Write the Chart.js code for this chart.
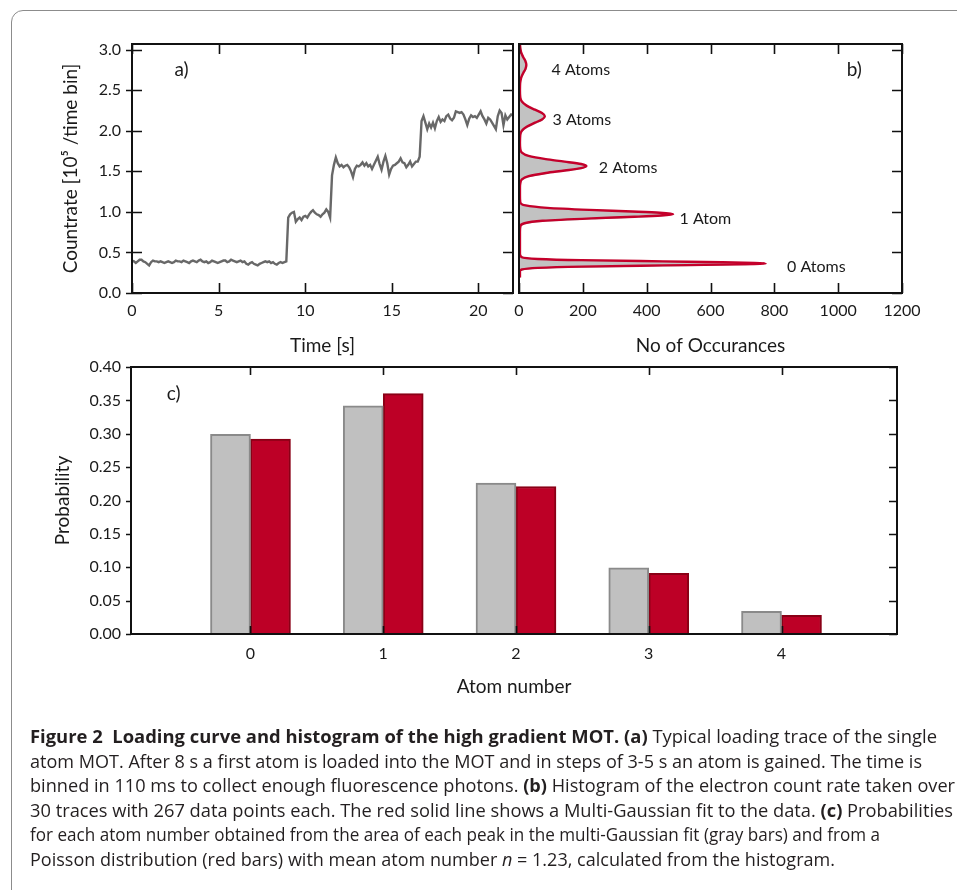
<!DOCTYPE html>
<html><head><meta charset="utf-8">
<script src="https://cdn.jsdelivr.net/npm/chart.js@4.4.1/dist/chart.umd.min.js"></script>
<style>
html,body{margin:0;padding:0;background:#fff;}
body{width:957px;height:890px;position:relative;overflow:hidden;}
canvas{position:absolute;left:0;top:0;pointer-events:none;}
#frame{position:absolute;left:11px;top:10px;width:1000px;height:1000px;border:1px solid #8c8c8c;border-radius:12px;}
#caption{position:absolute;left:30px;top:724px;font-family:"Open Sans",sans-serif;font-size:18px;line-height:24.6px;color:#231f20;}
#caption div{white-space:nowrap;transform-origin:0 50%;width:max-content;height:24.6px;}
#caption b{font-weight:700;}
</style></head><body>
<div id="frame"></div>
<canvas id="ca" width="957" height="890"></canvas>
<canvas id="cb" width="957" height="890"></canvas>
<canvas id="cc" width="957" height="890"></canvas>
<div id="caption">
<div data-w="907"><b>Figure 2&nbsp; Loading curve and histogram of the high gradient MOT. (a)</b> Typical loading trace of the single</div>
<div data-w="892">atom MOT. After 8 s a first atom is loaded into the MOT and in steps of 3-5 s an atom is gained. The time is</div>
<div data-w="925">binned in 110 ms to collect enough fluorescence photons. <b>(b)</b> Histogram of the electron count rate taken over</div>
<div data-w="923">30 traces with 267 data points each. The red solid line shows a Multi-Gaussian fit to the data. <b>(c)</b> Probabilities</div>
<div data-w="850">for each atom number obtained from the area of each peak in the multi-Gaussian fit (gray bars) and from a</div>
<div data-w="805">Poisson distribution (red bars) with mean atom number <i>n</i> = 1.23, calculated from the histogram.</div>
</div>
<script>
// ---------- DATA ----------
const binWidth = 0.11; // s per time bin
const traceRate = [
0.40,0.39,0.37,0.39,0.41,0.41,0.39,0.38,0.36,0.34,
0.38,0.40,0.39,0.39,0.38,0.39,0.38,0.37,0.38,0.39,
0.38,0.37,0.38,0.40,0.39,0.39,0.38,0.40,0.39,0.38,
0.37,0.39,0.40,0.39,0.38,0.40,0.41,0.39,0.38,0.39,
0.37,0.38,0.40,0.39,0.38,0.37,0.38,0.39,0.40,0.40,
0.38,0.39,0.41,0.40,0.39,0.38,0.39,0.40,0.38,0.39,
0.36,0.35,0.37,0.38,0.36,0.35,0.34,0.36,0.37,0.38,
0.39,0.38,0.39,0.37,0.38,0.36,0.35,0.37,0.38,0.37,
0.38,0.39,
0.93,0.97,0.99,1.00,0.88,0.91,0.93,0.90,0.94,0.95,0.93,0.97,1.00,1.02,0.99,0.97,0.96,0.94,0.97,0.99,1.03,1.00,0.93,
1.45,1.58,1.67,1.60,1.56,1.58,1.55,1.57,1.58,1.55,1.50,1.43,1.53,1.57,1.56,1.58,1.61,1.57,1.60,1.56,1.58,1.53,1.58,1.63,1.68,1.59,1.52,1.62,1.69,1.60,1.46,1.53,1.57,1.58,1.60,1.62,1.66,1.61,1.60,1.55,1.58,1.62,1.56,1.59,1.62,1.62,1.68,
2.12,2.18,2.10,2.02,2.09,2.04,2.10,2.03,2.12,2.17,2.11,2.14,2.12,2.18,2.20,2.15,2.13,2.16,2.24,2.23,2.22,2.23,2.20,2.14,2.07,2.15,2.19,2.17,2.18,2.16,2.20,2.24,2.18,2.14,2.09,2.16,2.14,2.10,2.06,2.02,2.18,2.25,2.22,2.07,2.19,2.14,2.17,2.20,2.19
];
const timeTicks = [0,5,10,15,20];
const rateTicks = [0,0.5,1.0,1.5,2.0,2.5,3.0];
const countTicks = [0,200,400,600,800,1000,1200];

const fitRate  = [0.19,0.25,0.27,0.29,0.31,0.325,0.34,0.35,0.358,0.365,0.372,0.38,0.39,0.405,0.42,0.44,0.48,0.6,0.75,0.82,0.86,0.89,0.92,0.94,0.955,0.972,0.99,1.005,1.025,1.05,1.08,1.12,1.2,1.3,1.35,1.40,1.44,1.48,1.51,1.54,1.565,1.59,1.62,1.65,1.69,1.73,1.78,1.85,1.95,2.00,2.05,2.10,2.14,2.18,2.22,2.26,2.31,2.36,2.41,2.5,2.58,2.65,2.71,2.76,2.81,2.86,2.91,2.97,3.04,3.1];
const fitCount = [3,3,3,9,59,195,451,637,738,773,738,637,451,195,59,9,3,3,3,4,17,74,226,362,445,483,441,355,220,89,21,4,3,3,4,9,30,84,143,195,211,195,143,84,30,9,4,3,4,9,24,50,72,81,72,50,24,9,4,3,3.5,6.4,13,20,23,20,13,6.4,3.5,3];
const histCount = [3,3,4,14,80,240,500,680,750,740,690,560,380,150,45,8,3,3,3,5,22,90,250,380,450,470,420,330,200,80,18,4,3,3,4,10,35,92,150,200,205,185,130,78,28,8,4,3,4,10,27,55,75,80,70,47,22,8,4,3,3.5,7,14,21,22,19,12,6,3.5,3];

const atomNumbers = [0,1,2,3,4];
const gaussProb  = [0.299,0.342,0.226,0.099,0.034];
const poissonProb = [0.292,0.360,0.221,0.091,0.028];
const probTicks = [0,0.05,0.10,0.15,0.20,0.25,0.30,0.35,0.40];

const peakLabels = ['0 Atoms','1 Atom','2 Atoms','3 Atoms','4 Atoms'];

// ---------- PLUGINS ----------
const frameTicks = {
  id:'frameTicks',
  afterDatasetsDraw(chart, args, o){
    if(!o || !o.on) return;
    const {ctx, chartArea:a} = chart;
    const xs = chart.scales.x, ys = chart.scales.y;
    ctx.save();
    ctx.strokeStyle = '#111'; ctx.lineWidth = o.tw || 1.6;
    ctx.beginPath();
    const L = o.len;
    (o.xTicks||[]).forEach(v=>{
      const p = Math.round(xs.getPixelForValue(v))+0.5;
      if(o.top){ctx.moveTo(p,a.top);ctx.lineTo(p,a.top+L);}
      if(o.bottom){ctx.moveTo(p,a.bottom);ctx.lineTo(p,a.bottom-L);}
    });
    (o.yTicks||[]).forEach(v=>{
      const p = Math.round(ys.getPixelForValue(v))+0.5;
      if(o.leftIn){ctx.moveTo(a.left,p);ctx.lineTo(a.left+o.leftIn,p);}
      if(o.leftOut){ctx.moveTo(a.left,p);ctx.lineTo(a.left-o.leftOut,p);}
      if(o.right){ctx.moveTo(a.right,p);ctx.lineTo(a.right-L,p);}
    });
    ctx.stroke();
    ctx.lineWidth = o.fw || 2;
    ctx.strokeRect(a.left, a.top, a.right-a.left, a.bottom-a.top);
    ctx.restore();
  }
};
const notes = {
  id:'notes',
  afterDatasetsDraw(chart, args, o){
    if(!o || !o.items) return;
    const ctx = chart.ctx, xs = chart.scales.x, ys = chart.scales.y;
    ctx.save();
    ctx.fillStyle = '#1a1a1a'; ctx.textAlign='left'; ctx.textBaseline='middle';
    o.items.forEach(it=>{
      ctx.font = (it.size||16)+'px Lato';
      ctx.fillText(it.text, xs.getPixelForValue(it.x), ys.getPixelForValue(it.y));
    });
    ctx.restore();
  }
};
Chart.register(frameTicks, notes);
Chart.defaults.font.family = 'Lato';
Chart.defaults.color = '#1a1a1a';

const base = {responsive:false, animation:false, events:[]};
const noLegend = {legend:{display:false}, tooltip:{enabled:false}};

// ---------- PANEL A ----------
new Chart(document.getElementById('ca'), {
  type:'line',
  data:{datasets:[{
    data: traceRate.map((r,i)=>({x: i*binWidth, y: r})),
    borderColor:'#686868', borderWidth:2.4, pointRadius:0, tension:0, fill:false
  }]},
  options:Object.assign({}, base, {
    layout:{padding:{left:59, top:44, right:444, bottom:890-357.4}},
    plugins:Object.assign({}, noLegend, {
      frameTicks:{on:true, xTicks:timeTicks, yTicks:rateTicks, len:10, top:true, bottom:true, leftIn:10, leftOut:6, right:true},
      notes:{items:[{text:'a)', x:2.45, y:2.75, size:19}]}
    }),
    scales:{
      x:{type:'linear', min:0, max:22, grid:{display:false, drawTicks:false}, border:{display:false},
         afterBuildTicks:s=>{s.ticks = timeTicks.map(v=>({value:v}));},
         ticks:{padding:8, font:{size:16}, maxRotation:0, autoSkip:false, callback:v=>String(v)},
         title:{display:true, text:'Time [s]', font:{size:19}, padding:0},
         afterFit:s=>{s.height = 64.4;}},
      y:{type:'linear', min:0, max:3.07, grid:{display:false, drawTicks:false}, border:{display:false},
         afterBuildTicks:s=>{s.ticks = rateTicks.map(v=>({value:v}));},
         ticks:{padding:11, font:{size:16}, callback:v=>Number(v).toFixed(1)},
         title:{display:true, text:'Countrate [10\u2075 /time bin]', font:{size:19}, padding:0},
         afterFit:s=>{s.width = 73;}}
    }
  })
});

// ---------- PANEL B ----------
new Chart(document.getElementById('cb'), {
  type:'line',
  data:{datasets:[
    {data: fitRate.map((r,i)=>({x: fitCount[i], y: r})), borderColor:'#c4002b', borderWidth:2.4,
     pointRadius:0, cubicInterpolationMode:'monotone', fill:false},
    {data: fitRate.map((r,i)=>({x: histCount[i], y: r})), borderColor:'#b4b4b4', borderWidth:1.5,
     backgroundColor:'#c2c2c2', pointRadius:0, cubicInterpolationMode:'monotone', fill:'origin'}
  ]},
  options:Object.assign({}, base, {
    indexAxis:'y',
    layout:{padding:{left:519, top:44, right:55, bottom:890-357.4}},
    plugins:Object.assign({}, noLegend, {
      frameTicks:{on:true, xTicks:countTicks, yTicks:rateTicks, len:10, top:true, bottom:true, right:true},
      notes:{items:[
        {text:peakLabels[0], x:840, y:0.32},
        {text:peakLabels[1], x:503, y:0.92},
        {text:peakLabels[2], x:250, y:1.54},
        {text:peakLabels[3], x:105, y:2.14},
        {text:peakLabels[4], x:102, y:2.75},
        {text:'b)', x:1027, y:2.75, size:19}
      ]}
    }),
    scales:{
      x:{type:'linear', min:0, max:1200, grid:{display:false, drawTicks:false}, border:{display:false},
         afterBuildTicks:s=>{s.ticks = countTicks.map(v=>({value:v}));},
         ticks:{padding:8, font:{size:16}, maxRotation:0, autoSkip:false, callback:v=>String(v)},
         title:{display:true, text:'No of Occurances', font:{size:19}, padding:0},
         afterFit:s=>{s.height = 64.4;}},
      y:{type:'linear', min:0, max:3.07, display:false}
    }
  })
});

// ---------- PANEL C ----------
new Chart(document.getElementById('cc'), {
  type:'bar',
  data:{datasets:[
    {data: atomNumbers.map((n,i)=>({x:n, y:gaussProb[i]})), backgroundColor:'#c0c0c0', borderColor:'#8a8a8a', borderWidth:2, barThickness:40},
    {data: atomNumbers.map((n,i)=>({x:n, y:poissonProb[i]})), backgroundColor:'#bd0026', borderColor:'#8a0016', borderWidth:2, barThickness:40}
  ]},
  options:Object.assign({}, base, {
    layout:{padding:{left:51.6, top:367, right:60, bottom:890-698.4}},
    plugins:Object.assign({}, noLegend, {
      frameTicks:{on:true, xTicks:atomNumbers, yTicks:probTicks, len:8, top:true, bottom:true, leftOut:5, right:true},
      notes:{items:[{text:'c)', x:-0.63, y:0.36, size:19}]}
    }),
    scales:{
      x:{type:'linear', offset:false, min:-0.9, max:4.87, grid:{display:false, drawTicks:false, offset:false}, border:{display:false},
         afterBuildTicks:s=>{s.ticks = atomNumbers.map(v=>({value:v}));},
         ticks:{padding:10, font:{size:16}, maxRotation:0, autoSkip:false, callback:v=>String(v)},
         title:{display:true, text:'Atom number', font:{size:19}, padding:0},
         afterFit:s=>{s.height = 64.4;}},
      y:{type:'linear', min:0, max:0.4, grid:{display:false, drawTicks:false}, border:{display:false},
         afterBuildTicks:s=>{s.ticks = probTicks.map(v=>({value:v}));},
         ticks:{padding:10, font:{size:16}, callback:v=>Number(v).toFixed(2)},
         title:{display:true, text:'Probability', font:{size:19}, padding:0},
         afterFit:s=>{s.width = 79.4;}}
    }
  })
});

// ---------- CAPTION FIT ----------
function fitCaption(){
  document.querySelectorAll('#caption div').forEach(d=>{
    d.style.transform='none';
    const w = d.getBoundingClientRect().width;
    const t = parseFloat(d.dataset.w);
    d.style.transform = 'scaleX(' + (t/w) + ')';
  });
}
fitCaption();
if(document.fonts && document.fonts.ready) document.fonts.ready.then(fitCaption);
</script>
</body></html>
